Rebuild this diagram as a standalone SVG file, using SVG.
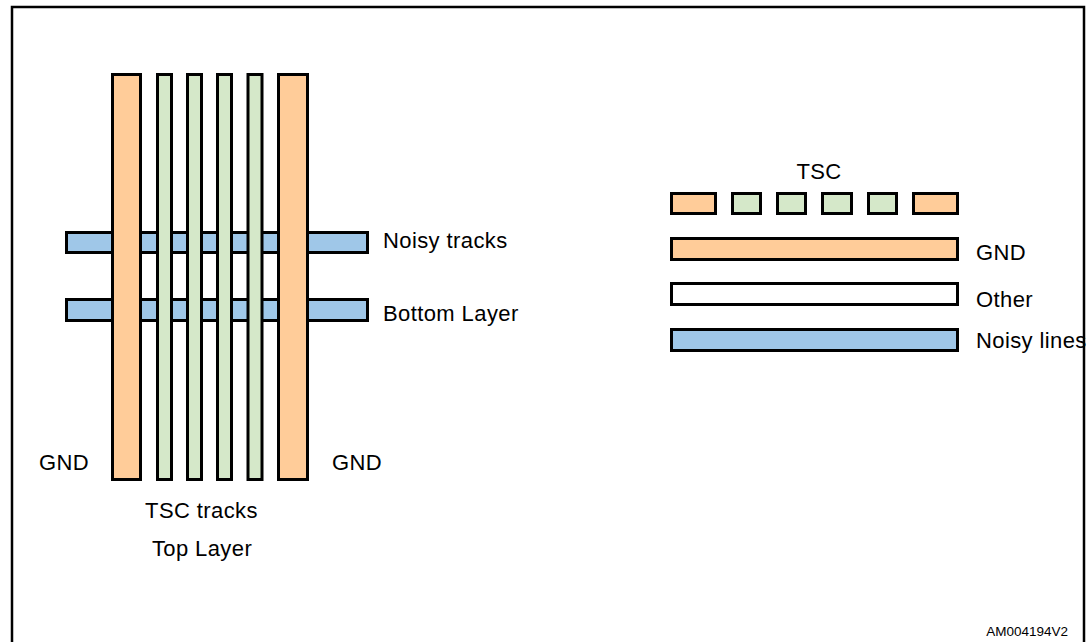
<svg xmlns="http://www.w3.org/2000/svg" width="1089" height="642" viewBox="0 0 1089 642">
<style>
.t{font-family:"Liberation Sans",Arial,sans-serif;font-size:22px;fill:#000;letter-spacing:0.4px}
.s{font-family:"Liberation Sans",Arial,sans-serif;font-size:13.5px;fill:#000}
.o{fill:#FFCC99;stroke:#000;stroke-width:3}
.g{fill:#D5E8C9;stroke:#000;stroke-width:3}
.b{fill:#9FC7E8;stroke:#000;stroke-width:3}
.w{fill:#FFFFFF;stroke:#000;stroke-width:3}
</style>
<rect width="1089" height="642" fill="#fff"/>
<path d="M12,650 V7 H1084 V650" fill="none" stroke="#000" stroke-width="2.5"/>
<g id="top-layer-view">
  <g id="noisy-tracks">
    <rect class="b" x="66.5" y="232.5" width="301" height="20"/>
    <rect class="b" x="66.5" y="299.5" width="301" height="21"/>
  </g>
  <g id="tsc-tracks">
    <rect class="o" x="112.5" y="74.5" width="28" height="405"/>
    <rect class="g" x="157.5" y="74.5" width="14" height="405"/>
    <rect class="g" x="187.5" y="74.5" width="14" height="405"/>
    <rect class="g" x="217.5" y="74.5" width="14" height="405"/>
    <rect class="g" x="248" y="74.5" width="14" height="405"/>
    <rect class="o" x="278.5" y="74.5" width="29" height="405"/>
  </g>
  <text class="t" x="383" y="248">Noisy tracks</text>
  <text class="t" x="383" y="321">Bottom Layer</text>
  <text class="t" x="39" y="470">GND</text>
  <text class="t" x="332" y="470">GND</text>
  <text class="t" x="201.5" y="518" text-anchor="middle">TSC tracks</text>
  <text class="t" x="202" y="556" text-anchor="middle">Top Layer</text>
</g>
<g id="cross-section">
  <text class="t" x="819" y="179" text-anchor="middle">TSC</text>
  <rect class="o" x="671.5" y="193.5" width="44" height="20"/>
  <rect class="g" x="732.5" y="193.5" width="28" height="20"/>
  <rect class="g" x="777.5" y="193.5" width="28" height="20"/>
  <rect class="g" x="822.5" y="193.5" width="29" height="20"/>
  <rect class="g" x="868.5" y="193.5" width="28" height="20"/>
  <rect class="o" x="913.5" y="193.5" width="44" height="20"/>
  <rect class="o" x="671.5" y="238.5" width="286" height="21"/>
  <rect class="w" x="671.5" y="283.5" width="286" height="21"/>
  <rect class="b" x="671.5" y="329.5" width="286" height="21"/>
  <text class="t" x="976" y="260">GND</text>
  <text class="t" x="976" y="307">Other</text>
  <text class="t" x="976" y="348">Noisy lines</text>
</g>
<text class="s" x="1068" y="636" text-anchor="end">AM004194V2</text>
</svg>
